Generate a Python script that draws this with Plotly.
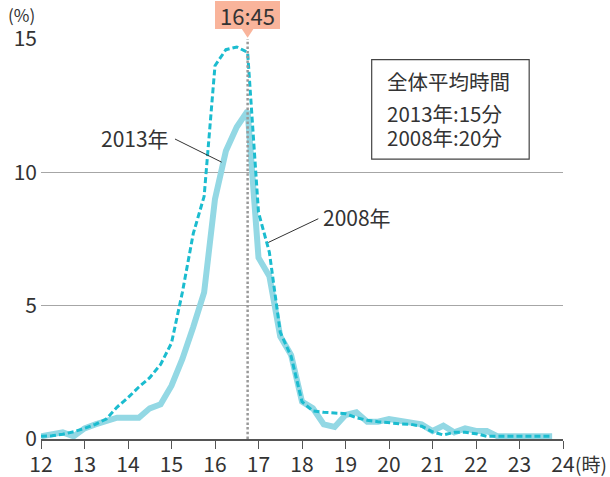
import plotly.graph_objects as go

FONT = "Noto Sans CJK JP"

times = ["12:00", "12:15", "12:30", "12:45", "13:00", "13:15", "13:30", "13:45",
         "14:00", "14:15", "14:30", "14:45", "15:00", "15:15", "15:30", "15:45",
         "16:00", "16:15", "16:30", "16:45", "17:00", "17:15", "17:30", "17:45",
         "18:00", "18:15", "18:30", "18:45", "19:00", "19:15", "19:30", "19:45",
         "20:00", "20:15", "20:30", "20:45", "21:00", "21:15", "21:30", "21:45",
         "22:00", "22:15", "22:30", "22:45", "23:00", "23:15", "23:30", "23:45"]

share_2013 = [0.1, 0.15, 0.25, 0.1, 0.4, 0.55, 0.7, 0.8,
              0.8, 0.8, 1.15, 1.3, 2.0, 3.0, 4.2, 5.5,
              9.0, 10.8, 11.7, 12.3, 6.8, 6.1, 3.85, 3.15,
              1.4, 1.15, 0.55, 0.45, 0.9, 1.0, 0.65, 0.65,
              0.75, 0.7, 0.62, 0.55, 0.3, 0.5, 0.25, 0.4,
              0.3, 0.3, 0.1, 0.1, 0.1, 0.1, 0.1, 0.1]

share_2008 = [0.1, 0.12, 0.18, 0.27, 0.4, 0.55, 0.75, 1.2,
              1.55, 1.95, 2.3, 2.8, 3.6, 5.5, 7.7, 9.1,
              14.0, 14.6, 14.7, 14.5, 8.5, 7.0, 4.0, 3.1,
              1.4, 1.05, 1.0, 0.97, 0.95, 0.8, 0.7, 0.65,
              0.6, 0.57, 0.55, 0.48, 0.27, 0.15, 0.25, 0.25,
              0.2, 0.1, 0.1, 0.1, 0.1, 0.1, 0.1, 0.1]

x_ticks = [12, 13, 14, 15, 16, 17, 18, 19, 20, 21, 22, 23, 24]
y_ticks = [0, 5, 10, 15]
peak_time = "16:45"
box_lines = ["全体平均時間", "2013年:15分", "2008年:20分"]


def to_hours(t):
    h, m = t.split(":")
    return int(h) + int(m) / 60


hours = [to_hours(t) for t in times]
peak_h = to_hours(peak_time)

fig = go.Figure()
fig.add_trace(go.Scatter(x=hours, y=share_2013, mode="lines", name="2013年",
                         line=dict(color="#93d8e4", width=6), showlegend=False))
fig.add_trace(go.Scatter(x=hours, y=share_2008, mode="lines", name="2008年",
                         line=dict(color="#1bbccf", width=3, dash="6px,3px"),
                         showlegend=False))

# vertical dotted peak line
fig.add_shape(type="line", xref="x", yref="y", x0=peak_h, x1=peak_h, y0=0, y1=15,
              line=dict(color="#999999", width=2.5, dash="2.5px,2.2px"), layer="above")
# pointer triangle of the peak label
fig.add_shape(type="path", xref="x", yref="paper",
              path=f"M {peak_h-0.14},1.0265 L {peak_h+0.14},1.0265 L {peak_h},1.003 Z",
              fillcolor="#f9b49b", line=dict(width=0), layer="above")
fig.add_annotation(x=peak_h, xref="x", y=1.0595, yref="paper", text=peak_time,
                   showarrow=False, bgcolor="#f9b49b", width=65, height=28,
                   borderpad=0, borderwidth=0, xanchor="center", yanchor="middle",
                   font=dict(family=FONT, size=22, color="#333333"))

# info box
fig.add_shape(type="rect", xref="paper", yref="paper", x0=0.6335, x1=0.9352,
              y0=0.6998, y1=0.9482, line=dict(color="#444444", width=1.2),
              fillcolor="white", layer="above")
for txt, yy in zip(box_lines, [0.894, 0.816, 0.754]):
    fig.add_annotation(x=0.659, xref="paper", y=yy, yref="paper", text=txt,
                       showarrow=False, xanchor="left", yanchor="middle",
                       font=dict(family=FONT, size=20.5, color="#333333"))

# series labels with leader lines
fig.add_annotation(x=14.99, y=11.3, text="2013年", showarrow=False,
                   xanchor="right", yanchor="middle",
                   font=dict(family=FONT, size=21, color="#333333"))
fig.add_shape(type="line", x0=15.08, y0=11.25, x1=16.154, y1=10.38,
              line=dict(color="#333333", width=1))
fig.add_annotation(x=18.43, y=8.34, text="2008年", showarrow=False,
                   xanchor="left", yanchor="middle",
                   font=dict(family=FONT, size=21, color="#333333"))
fig.add_shape(type="line", x0=18.375, y0=8.26, x1=17.225, y1=7.37,
              line=dict(color="#333333", width=1))

# axis unit labels
fig.add_annotation(x=-0.0383, xref="paper", y=1.06, yref="paper", text="(%)",
                   showarrow=False, xanchor="center", yanchor="middle",
                   font=dict(family=FONT, size=17, color="#333333"))
fig.add_annotation(x=1.019, xref="paper", y=-0.06, yref="paper", text="(時)",
                   showarrow=False, xanchor="left", yanchor="middle",
                   font=dict(family=FONT, size=19, color="#333333"))

fig.update_layout(
    width=610, height=477,
    margin=dict(l=41, r=47, t=39, b=38, pad=0),
    plot_bgcolor="white", paper_bgcolor="white",
    font=dict(family=FONT, size=21, color="#333333"),
    xaxis=dict(range=[12, 24], tickvals=x_ticks, ticktext=[str(v) for v in x_ticks],
               ticks="outside", ticklen=8, tickwidth=1.2, tickcolor="#555555",
               showline=True, linecolor="#555555", linewidth=1.5,
               showgrid=False, zeroline=False, automargin=False,
               ticklabelstandoff=-2,
               tickfont=dict(family=FONT, size=21, color="#333333")),
    yaxis=dict(range=[0, 15], tickvals=y_ticks, ticks="",
               showgrid=True, gridcolor="#a6a6a6", gridwidth=1,
               zeroline=False, showline=False, automargin=False,
               ticklabelstandoff=3,
               tickfont=dict(family=FONT, size=21, color="#333333")),
)

fig.write_html("out.html", config={"displayModeBar": False},
               post_script="document.body.style.margin='0';document.body.style.overflow='hidden';")
